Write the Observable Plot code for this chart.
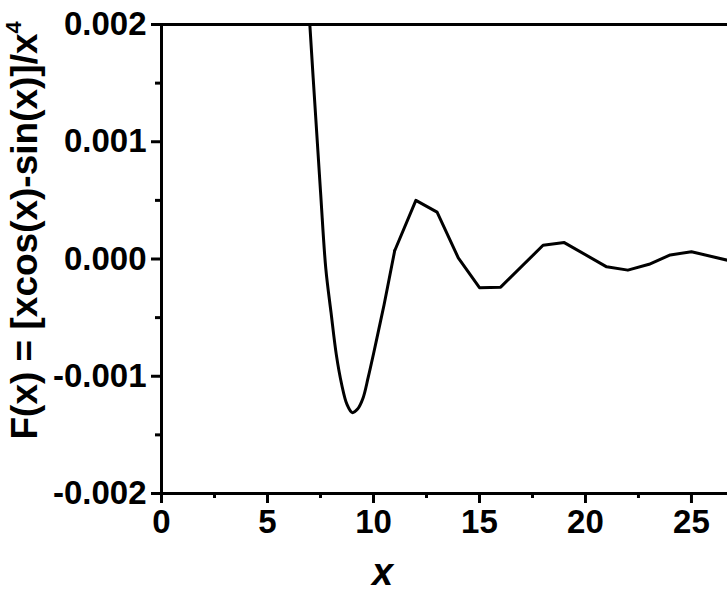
<!DOCTYPE html>
<html>
<head>
<meta charset="utf-8">
<script src="https://cdn.jsdelivr.net/npm/d3@7"></script>
<script src="https://cdn.jsdelivr.net/npm/@observablehq/plot@0.6"></script>
<style>
  html, body { margin: 0; padding: 0; background: #fff; overflow: hidden; }
</style>
</head>
<body>
<div id="chart"></div>
<script>
// Values
const xSmooth = [6.5, 7, 7.5, 7.75, 8, 8.25, 8.5, 8.75, 9, 9.25, 9.5, 9.75, 10, 10.25, 10.5, 10.75, 11];
const fSmooth = [0.0035, 0.00199, 0.00058, -0.00008, -0.00046, -0.00082, -0.00107, -0.00124, -0.00131,
                 -0.00128, -0.00119, -0.00101, -0.00081, -0.00060, -0.00039, -0.00016, 0.00007];
const xCoarse = [11, 12, 13, 14, 15, 16, 18, 19, 21, 22, 23, 24, 25, 27];
const fCoarse = [0.00007, 0.00050, 0.00040, 0.00001, -0.000245, -0.00024, 0.000117, 0.00014, -0.000067,
                 -0.000095, -0.000045, 0.000035, 0.000062, -0.000023];
const xTicks = [0, 5, 10, 15, 20, 25];
const xMinorTicks = [2.5, 7.5, 12.5, 17.5, 22.5];
const yTicks = [-0.002, -0.001, 0, 0.001, 0.002];
const yMinorTicks = [-0.0015, -0.0005, 0.0005, 0.0015];
const xDomain = [0, 26.7];
const yDomain = [-0.002, 0.002];
const yTitle = "F(x) = [xcos(x)-sin(x)]/x";
const yTitleSup = "4";
const xTitle = "x";

const smooth = xSmooth.map((x, i) => ({x, y: fSmooth[i]}));
const coarse = xCoarse.map((x, i) => ({x, y: fCoarse[i]}));

const chart = Plot.plot({
  width: 727,
  height: 592,
  marginLeft: 161,
  marginRight: 0,
  marginTop: 24,
  marginBottom: 99,
  style: {
    fontFamily: "'Liberation Sans', Arial, sans-serif",
    fontSize: "33px",
    fontWeight: "bold",
    background: "#fff",
    color: "#000"
  },
  x: {domain: xDomain},
  y: {domain: yDomain},
  marks: [
    Plot.lineY(smooth, {x: "x", y: "y", stroke: "#000", strokeWidth: 3, curve: "catmull-rom", clip: true}),
    Plot.lineY(coarse, {x: "x", y: "y", stroke: "#000", strokeWidth: 3, clip: true}),
    Plot.ruleX([xDomain[0]], {stroke: "#000", strokeWidth: 3}),
    Plot.ruleY(yDomain, {stroke: "#000", strokeWidth: 3}),
    Plot.axisX({ticks: xTicks, tickSize: 10, tickPadding: 6, strokeWidth: 3, fontSize: 33, fontWeight: "bold",
                tickFormat: d => String(d), label: null}),
    Plot.axisX({ticks: xMinorTicks, tickSize: 5, strokeWidth: 3, tickFormat: () => "", label: null}),
    Plot.axisY({ticks: yTicks, tickSize: 10, tickPadding: 5, strokeWidth: 3, fontSize: 33, fontWeight: "bold",
                tickFormat: d => d.toFixed(3), label: null}),
    Plot.axisY({ticks: yMinorTicks, tickSize: 6, strokeWidth: 3, tickFormat: () => "", label: null}),
    Plot.text([yTitle], {frameAnchor: "bottom-left", text: d => d, rotate: -90, textAnchor: "start",
                         dx: -125, dy: -54, fontSize: 37, fontWeight: "bold"}),
    Plot.text([xTitle], {frameAnchor: "bottom", text: d => d, dy: 91, dx: -62, fontSize: 38,
                         fontWeight: "bold", fontStyle: "italic"})
  ]
});

// thicker tick marks and axis lines
d3.select(chart).selectAll("path, line").attr("stroke-width", 3).style("stroke-width", "3px");

// add the superscript 4 to the y title
d3.select(chart).selectAll("text").each(function() {
  const t = d3.select(this);
  if (t.text() === yTitle) {
    t.append("tspan").attr("font-size", 22).attr("dy", "-0.7em").text(yTitleSup);
  }
});

document.getElementById("chart").appendChild(chart);
</script>
</body>
</html>
